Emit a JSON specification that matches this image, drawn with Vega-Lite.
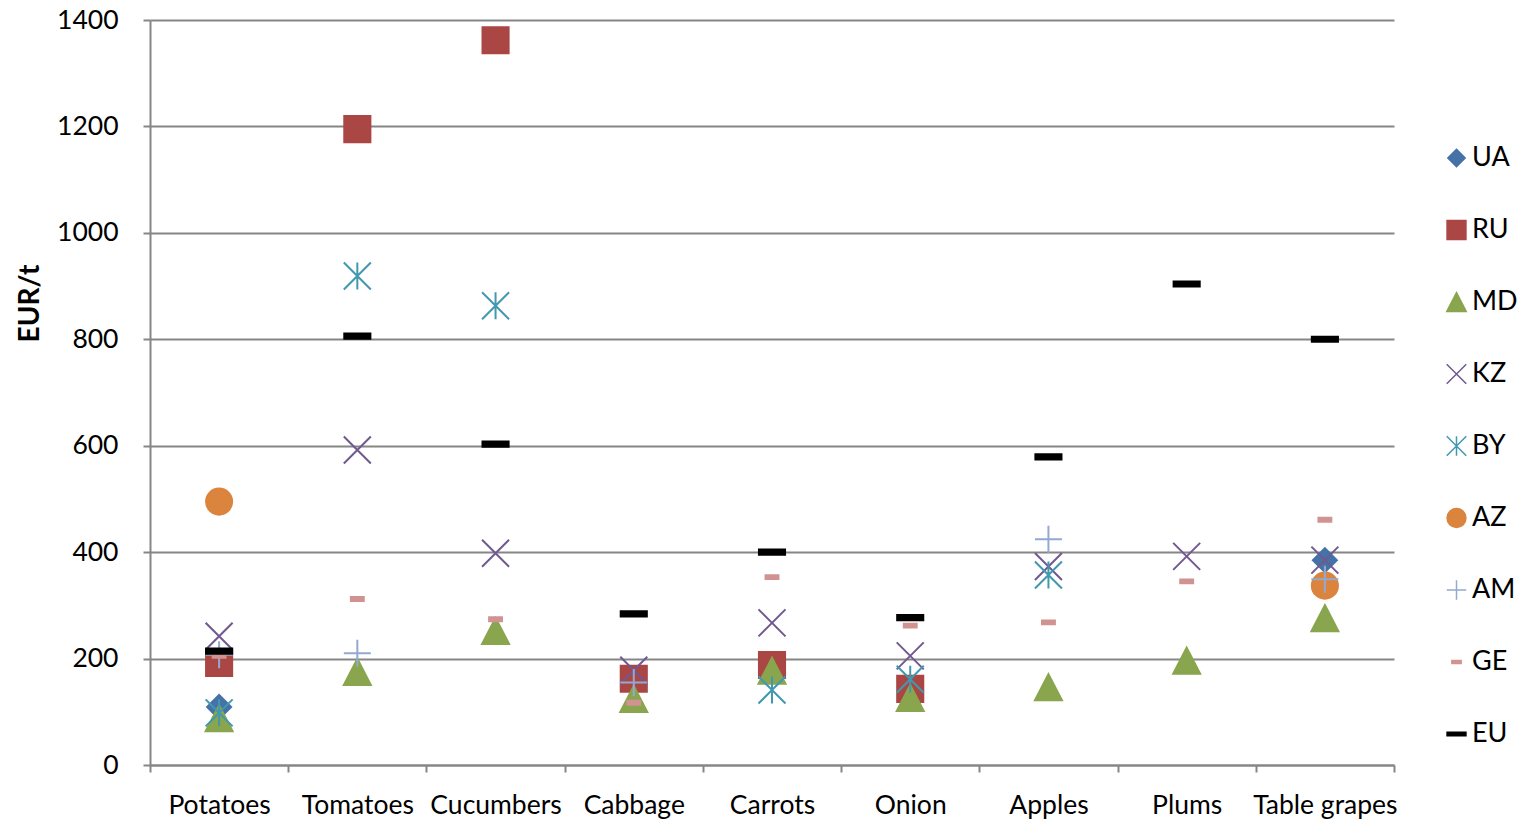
{
  "$schema": "https://vega.github.io/schema/vega-lite/v6.json",
  "autosize": {"type": "none"},
  "width": 1244,
  "height": 745,
  "padding": {"left": 150, "top": 20, "right": 132, "bottom": 55},
  "background": "white",
  "config": {
    "view": {"stroke": null},
    "font": "Lato",
    "axis": {"labelFont": "Lato", "titleFont": "Lato"},
    "legend": {"labelFont": "Lato"}
  },
  "data": {
    "values": [
      {"crop": "Potatoes", "country": "UA", "value": 109},
      {"crop": "Table grapes", "country": "UA", "value": 385},
      {"crop": "Potatoes", "country": "RU", "value": 192},
      {"crop": "Tomatoes", "country": "RU", "value": 1195},
      {"crop": "Cucumbers", "country": "RU", "value": 1362},
      {"crop": "Cabbage", "country": "RU", "value": 162},
      {"crop": "Carrots", "country": "RU", "value": 188},
      {"crop": "Onion", "country": "RU", "value": 143},
      {"crop": "Potatoes", "country": "MD", "value": 88},
      {"crop": "Tomatoes", "country": "MD", "value": 175},
      {"crop": "Cucumbers", "country": "MD", "value": 252},
      {"crop": "Cabbage", "country": "MD", "value": 124},
      {"crop": "Carrots", "country": "MD", "value": 177},
      {"crop": "Onion", "country": "MD", "value": 126},
      {"crop": "Apples", "country": "MD", "value": 146},
      {"crop": "Plums", "country": "MD", "value": 196},
      {"crop": "Table grapes", "country": "MD", "value": 276},
      {"crop": "Potatoes", "country": "KZ", "value": 242},
      {"crop": "Tomatoes", "country": "KZ", "value": 592},
      {"crop": "Cucumbers", "country": "KZ", "value": 398},
      {"crop": "Cabbage", "country": "KZ", "value": 178},
      {"crop": "Carrots", "country": "KZ", "value": 267},
      {"crop": "Onion", "country": "KZ", "value": 205},
      {"crop": "Apples", "country": "KZ", "value": 373},
      {"crop": "Plums", "country": "KZ", "value": 392},
      {"crop": "Table grapes", "country": "KZ", "value": 385},
      {"crop": "Potatoes", "country": "BY", "value": 98},
      {"crop": "Tomatoes", "country": "BY", "value": 919},
      {"crop": "Cucumbers", "country": "BY", "value": 863},
      {"crop": "Carrots", "country": "BY", "value": 141},
      {"crop": "Onion", "country": "BY", "value": 161},
      {"crop": "Apples", "country": "BY", "value": 357},
      {"crop": "Potatoes", "country": "AZ", "value": 495},
      {"crop": "Table grapes", "country": "AZ", "value": 337},
      {"crop": "Potatoes", "country": "AM", "value": 207},
      {"crop": "Tomatoes", "country": "AM", "value": 210},
      {"crop": "Cabbage", "country": "AM", "value": 155},
      {"crop": "Apples", "country": "AM", "value": 424},
      {"crop": "Table grapes", "country": "AM", "value": 349},
      {"crop": "Potatoes", "country": "GE", "value": 205},
      {"crop": "Tomatoes", "country": "GE", "value": 312},
      {"crop": "Cucumbers", "country": "GE", "value": 274},
      {"crop": "Cabbage", "country": "GE", "value": 117},
      {"crop": "Carrots", "country": "GE", "value": 353},
      {"crop": "Onion", "country": "GE", "value": 262},
      {"crop": "Apples", "country": "GE", "value": 268},
      {"crop": "Plums", "country": "GE", "value": 345},
      {"crop": "Table grapes", "country": "GE", "value": 461},
      {"crop": "Potatoes", "country": "EU", "value": 214},
      {"crop": "Tomatoes", "country": "EU", "value": 806},
      {"crop": "Cucumbers", "country": "EU", "value": 603},
      {"crop": "Cabbage", "country": "EU", "value": 284},
      {"crop": "Carrots", "country": "EU", "value": 400},
      {"crop": "Onion", "country": "EU", "value": 277},
      {"crop": "Apples", "country": "EU", "value": 579},
      {"crop": "Plums", "country": "EU", "value": 904},
      {"crop": "Table grapes", "country": "EU", "value": 800}
    ]
  },
  "mark": {"type": "point", "filled": true, "opacity": 1, "size": 900, "strokeWidth": 2},
  "encoding": {
    "x": {
      "field": "crop",
      "type": "nominal",
      "sort": ["Potatoes", "Tomatoes", "Cucumbers", "Cabbage", "Carrots", "Onion", "Apples", "Plums", "Table grapes"],
      "scale": {"type": "band", "paddingInner": 0, "paddingOuter": 0},
      "axis": {
        "title": null,
        "labelAngle": 0,
        "labelFontSize": 26.5,
        "labelColor": "#000000",
        "labelPadding": 20,
        "tickBand": "extent",
        "tickSize": 7,
        "tickColor": "#868686",
        "tickWidth": 2,
        "domainColor": "#868686",
        "domainWidth": 2,
        "grid": false
      }
    },
    "y": {
      "field": "value",
      "type": "quantitative",
      "scale": {"domain": [0, 1400], "nice": false},
      "axis": {
        "title": "EUR/t",
        "titleFontSize": 28,
        "titleFontWeight": "bold",
        "titleColor": "#000000",
        "titleAngle": 270,
        "titleX": -120,
        "titleY": 283,
        "titleAlign": "center",
        "titleBaseline": "middle",
        "values": [0, 200, 400, 600, 800, 1000, 1200, 1400],
        "format": "d",
        "labelFontSize": 26.5,
        "labelColor": "#000000",
        "labelPadding": 25,
        "tickSize": 7,
        "tickColor": "#868686",
        "tickWidth": 2,
        "domainColor": "#868686",
        "domainWidth": 2,
        "grid": true,
        "gridColor": "#868686",
        "gridWidth": 2
      }
    },
    "shape": {
      "field": "country",
      "type": "nominal",
      "scale": {
        "domain": ["UA", "RU", "MD", "KZ", "BY", "AZ", "AM", "GE", "EU"],
        "range": [
          "M0,-0.8L0.8,0L0,0.8L-0.8,0Z",
          "M-0.87,-0.87H0.87V0.87H-0.87Z",
          "M0,-0.87L0.9,0.87H-0.9Z",
          "M-0.9,-0.9L0.9,0.9M-0.9,0.9L0.9,-0.9",
          "M-0.9,-0.9L0.9,0.9M-0.9,0.9L0.9,-0.9M0,-0.9V0.9",
          "M0.87,0A0.87,0.87,0,1,1,-0.87,0A0.87,0.87,0,1,1,0.87,0Z",
          "M-0.9,0H0.9M0,-0.9V0.9",
          "M-0.43,-0.13H0.43V0.13H-0.43Z",
          "M-0.87,-0.17H0.87V0.17H-0.87Z"
        ]
      },
      "legend": {
        "title": null,
        "orient": "none",
        "legendX": 1293,
        "legendY": 124.5,
        "padding": 0,
        "symbolSize": 470,
        "symbolStrokeWidth": 1.5,
        "labelFontSize": 27,
        "labelColor": "#000000",
        "labelOffset": 2,
        "rowPadding": 44
      }
    },
    "fill": {
      "field": "country",
      "type": "nominal",
      "scale": {
        "domain": ["UA", "RU", "MD", "KZ", "BY", "AZ", "AM", "GE", "EU"],
        "range": ["#4572A7", "#AA4643", "#89A54E", "transparent", "transparent", "#DB843D", "transparent", "#D19392", "#000000"]
      },
      "legend": {"title": null}
    },
    "stroke": {
      "field": "country",
      "type": "nominal",
      "scale": {
        "domain": ["UA", "RU", "MD", "KZ", "BY", "AZ", "AM", "GE", "EU"],
        "range": ["#4572A7", "#AA4643", "#89A54E", "#71588F", "#4198AF", "#DB843D", "#93A9CF", "#D19392", "#000000"]
      },
      "legend": {"title": null}
    }
  }
}
